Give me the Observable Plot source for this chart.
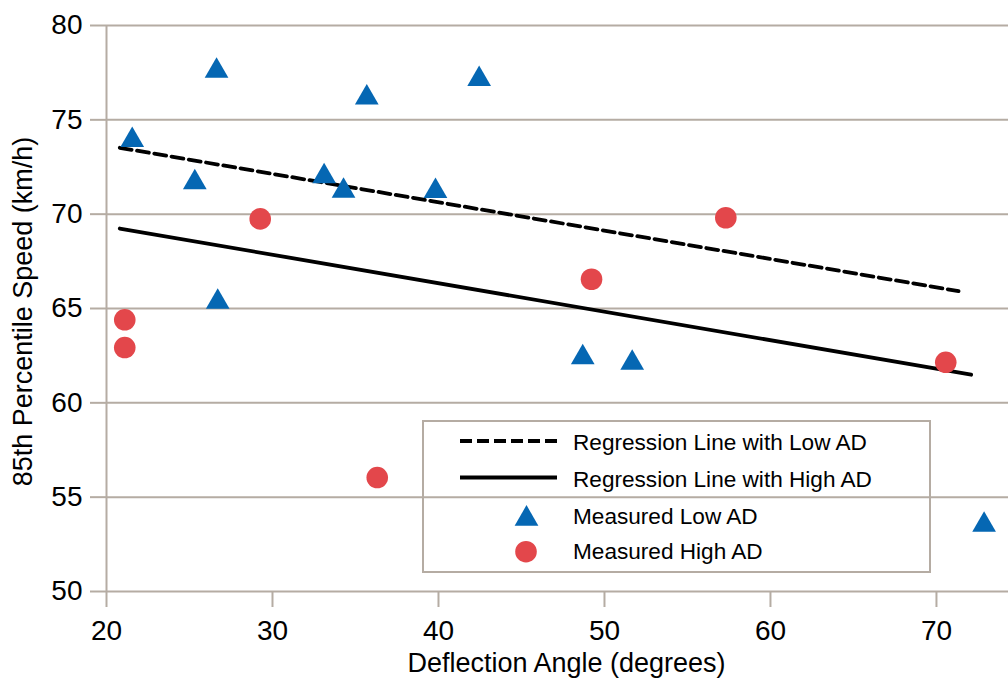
<!DOCTYPE html>
<html>
<head>
<meta charset="utf-8">
<script src="https://cdn.jsdelivr.net/npm/d3@7"></script>
<script src="https://cdn.jsdelivr.net/npm/@observablehq/plot@0.6"></script>
<style>
  html, body { margin: 0; padding: 0; background: #fff; }
  #wrap { position: relative; width: 1008px; height: 679px; overflow: hidden; }
  #wrap svg { display: block; }
  #legend { position: absolute; left: 0; top: 0; pointer-events: none; }
</style>
</head>
<body>
<div id="wrap"></div>
<script>
// ---- Data ----
const lowAngle  = [21.55, 26.63, 25.32, 26.70, 33.11, 34.28, 35.68, 39.82, 42.45, 48.69, 51.67, 72.87];
const lowSpeed  = [73.92, 77.59, 71.68, 65.35, 72.00, 71.23, 76.17, 71.22, 77.16, 62.41, 62.11, 53.53];
const highAngle = [21.10, 21.10, 29.26, 36.31, 49.22, 57.31, 70.56];
const highSpeed = [64.40, 62.93, 69.75, 56.04, 66.55, 69.81, 62.15];
const lowLineAngle  = [20.80, 71.33];
const lowLineSpeed  = [73.52, 65.92];
const highLineAngle = [20.80, 72.09];
const highLineSpeed = [69.24, 61.49];
const xTicks = [20, 30, 40, 50, 60, 70];
const yTicks = [50, 55, 60, 65, 70, 75, 80];
const xTitle = "Deflection Angle (degrees)";
const yTitle = "85th Percentile Speed (km/h)";
const legendLabels = ["Regression Line with Low AD", "Regression Line with High AD", "Measured Low AD", "Measured High AD"];

// ---- Styles ----
const grid = "#b5aca3";
const blue = "#0567b3";
const red = "#e3474b";
const font = "'Liberation Sans', Arial, Helvetica, sans-serif";

const low = lowAngle.map((x, i) => ({x, y: lowSpeed[i]}));
const high = highAngle.map((x, i) => ({x, y: highSpeed[i]}));
const lowLine = lowLineAngle.map((x, i) => ({x, y: lowLineSpeed[i]}));
const highLine = highLineAngle.map((x, i) => ({x, y: highLineSpeed[i]}));

const chart = Plot.plot({
  width: 1008,
  height: 679,
  marginLeft: 106,
  marginRight: 0,
  marginTop: 25,
  marginBottom: 88,
  x: {domain: [20, 74.34]},
  y: {domain: [50, 80]},
  style: {fontFamily: font, background: "white", color: "black", overflow: "visible"},
  marks: [
    Plot.ruleY(yTicks, {stroke: grid, strokeWidth: 2}),
    Plot.axisY({ticks: yTicks, tickSize: 16, tickPadding: 8, stroke: grid, strokeWidth: 2, strokeOpacity: 1, fill: "black", fontSize: 28, label: null}),
    Plot.axisX({ticks: xTicks, tickSize: 16, tickPadding: 13, stroke: grid, strokeWidth: 2, strokeOpacity: 1, fill: "black", fontSize: 28, label: null}),
    Plot.ruleX([20], {stroke: grid, strokeWidth: 2}),
    Plot.line(lowLine, {x: "x", y: "y", stroke: "black", strokeWidth: 3.8, strokeDasharray: "12,5.5"}),
    Plot.line(highLine, {x: "x", y: "y", stroke: "black", strokeWidth: 3.8}),
    Plot.dot(low, {x: "x", y: "y", symbol: "triangle", r: 8.8, fill: blue, stroke: "none"}),
    Plot.dot(high, {x: "x", y: "y", symbol: "circle", r: 10.8, fill: red, stroke: "none"}),
    Plot.text([xTitle], {frameAnchor: "bottom", textAnchor: "middle", dx: 9, dy: 80, fontSize: 27, fill: "black"}),
    Plot.text([yTitle], {frameAnchor: "left", textAnchor: "middle", rotate: -90, dx: -83, dy: 3, fontSize: 27, fill: "black"})
  ]
});
document.getElementById("wrap").appendChild(chart);

// ---- Legend (inside plot area, drawn as an overlay) ----
const lg = d3.select("#wrap").append("svg")
  .attr("id", "legend").attr("width", 1008).attr("height", 679)
  .style("font-family", font);
lg.append("rect").attr("x", 423).attr("y", 421).attr("width", 507).attr("height", 151)
  .attr("fill", "none").attr("stroke", grid).attr("stroke-width", 2);
lg.append("line").attr("x1", 460).attr("x2", 559).attr("y1", 441).attr("y2", 441)
  .attr("stroke", "black").attr("stroke-width", 3.8).attr("stroke-dasharray", "12,5");
lg.append("line").attr("x1", 460).attr("x2", 557).attr("y1", 477.5).attr("y2", 477.5)
  .attr("stroke", "black").attr("stroke-width", 3.8);
lg.append("path").attr("transform", "translate(526.5,518.8)")
  .attr("d", d3.symbol(d3.symbolTriangle, Math.PI * 8.8 * 8.8)()).attr("fill", blue);
lg.append("circle").attr("cx", 526).attr("cy", 551.7).attr("r", 10.8).attr("fill", red);
const baselines = [450, 486.5, 524, 559];
legendLabels.forEach((t, i) => {
  lg.append("text").attr("x", 573).attr("y", baselines[i]).attr("font-size", 22.6).attr("fill", "black").text(t);
});
</script>
</body>
</html>
